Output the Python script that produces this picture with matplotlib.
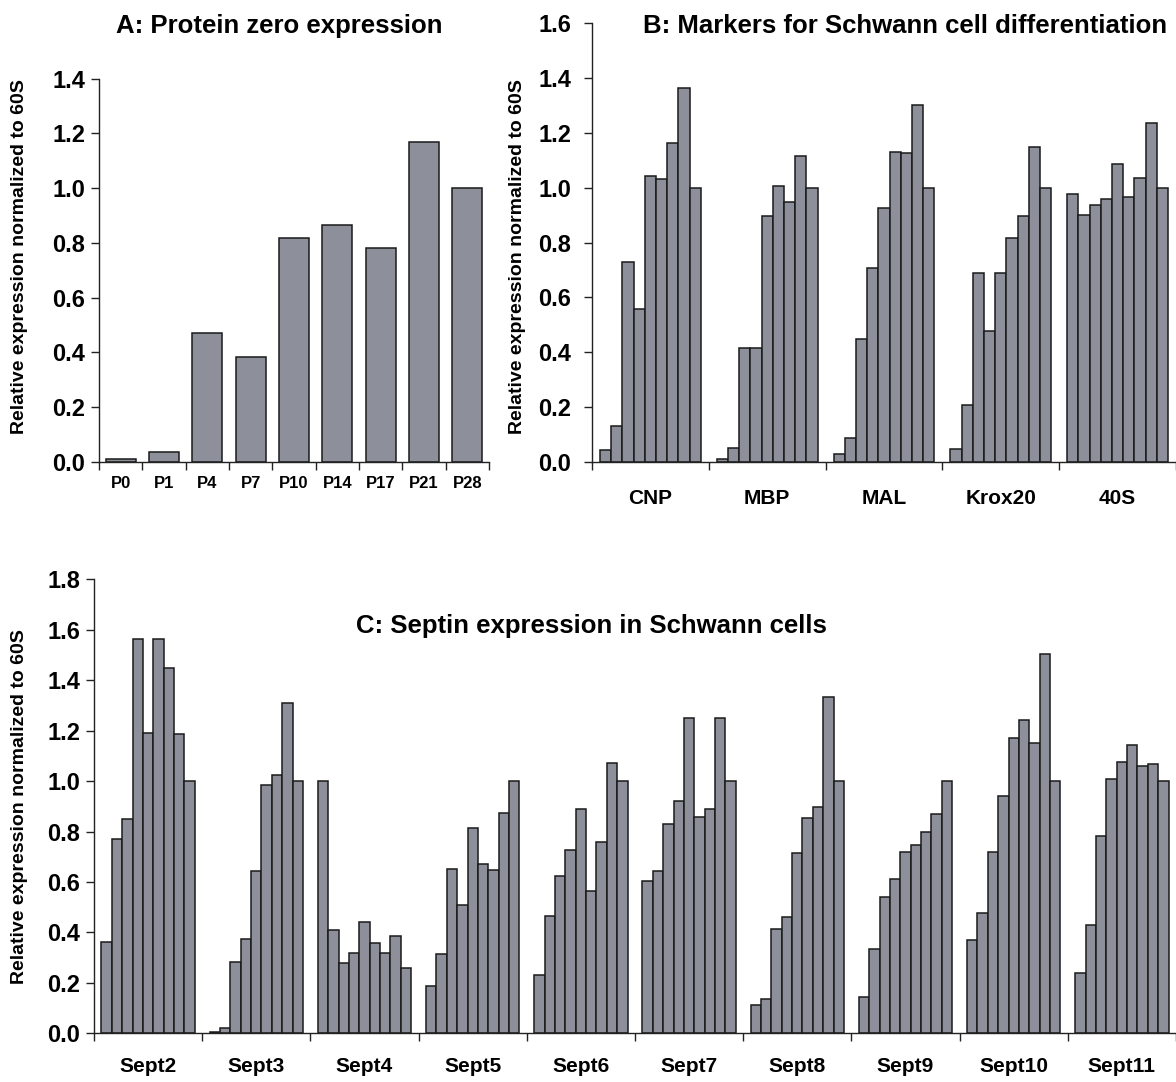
import numpy as np
import matplotlib
matplotlib.use("Agg")
import matplotlib.pyplot as plt

plt.rcParams['font.family'] = ['Liberation Sans', 'DejaVu Sans']
plt.rcParams['font.weight'] = 'bold'

# --- data ---
days = ['P0', 'P1', 'P4', 'P7', 'P10', 'P14', 'P17', 'P21', 'P28']
p0_expr = [0.011, 0.037, 0.469, 0.383, 0.819, 0.864, 0.782, 1.170, 1.0]

markers = ['CNP', 'MBP', 'MAL', 'Krox20', '40S']
cnp = [0.043, 0.131, 0.730, 0.556, 1.044, 1.030, 1.164, 1.365, 1.0]
mbp = [0.011, 0.051, 0.416, 0.416, 0.897, 1.006, 0.946, 1.116, 1.0]
mal = [0.029, 0.086, 0.446, 0.708, 0.926, 1.130, 1.125, 1.300, 1.0]
krox20 = [0.045, 0.206, 0.690, 0.477, 0.690, 0.818, 0.897, 1.150, 1.0]
s40 = [0.976, 0.901, 0.937, 0.959, 1.086, 0.965, 1.035, 1.235, 1.0]

septins = ['Sept2', 'Sept3', 'Sept4', 'Sept5', 'Sept6',
           'Sept7', 'Sept8', 'Sept9', 'Sept10', 'Sept11']
sept2 = [0.361, 0.772, 0.851, 1.562, 1.189, 1.562, 1.448, 1.185, 1.0]
sept3 = [0.007, 0.020, 0.283, 0.373, 0.645, 0.983, 1.024, 1.308, 1.0]
sept4 = [1.0, 0.411, 0.278, 0.318, 0.443, 0.359, 0.317, 0.386, 0.258]
sept5 = [0.186, 0.315, 0.652, 0.510, 0.813, 0.670, 0.648, 0.875, 1.0]
sept6 = [0.233, 0.466, 0.624, 0.727, 0.891, 0.566, 0.759, 1.072, 1.0]
sept7 = [0.603, 0.644, 0.830, 0.922, 1.251, 0.859, 0.891, 1.251, 1.0]
sept8 = [0.112, 0.136, 0.412, 0.463, 0.715, 0.855, 0.896, 1.333, 1.0]
sept9 = [0.144, 0.336, 0.540, 0.612, 0.719, 0.747, 0.797, 0.870, 1.0]
sept10 = [0.371, 0.478, 0.719, 0.942, 1.170, 1.241, 1.152, 1.504, 1.0]
sept11 = [0.239, 0.431, 0.782, 1.010, 1.076, 1.144, 1.058, 1.066, 1.0]

BAR = '#8d8f9a'
W, H = 1176, 1082


def px_axes(fig, x0, x1, ytop, ybot):
    # axes placed from pixel coordinates of the reference
    return fig.add_axes([x0 / W, 1 - ybot / H, (x1 - x0) / W, (ybot - ytop) / H])


def style(ax, ymax, ypad, xpad, xsize):
    for s in ['top', 'right']:
        ax.spines[s].set_visible(False)
    for s in ['left', 'bottom']:
        ax.spines[s].set_linewidth(1.0)
        ax.spines[s].set_color('#222222')
    ax.set_ylim(0, ymax)
    ax.set_yticks(np.arange(0, ymax + 0.01, 0.2))
    ax.set_yticklabels([f'{v:.1f}' for v in np.arange(0, ymax + 0.01, 0.2)])
    ax.tick_params(axis='y', direction='out', length=6, width=1.0, pad=ypad,
                   labelsize=17, color='#222222')
    ax.tick_params(axis='x', which='major', direction='out', length=6, width=1.0,
                   labelbottom=False, color='#222222')
    ax.tick_params(axis='x', which='minor', length=0, pad=xpad, labelsize=xsize)
    for lab in ax.get_yticklabels():
        lab.set_fontweight('bold')


def grouped(ax, groups, series):
    n = len(series[0])
    bw = 0.096
    for g, vals in enumerate(series):
        xs = g + 0.5 + (np.arange(n) - (n - 1) / 2) * bw
        ax.bar(xs, vals, width=bw, color=BAR, edgecolor='#1a1a1a', linewidth=1.1)
    ax.set_xlim(0, len(groups))
    ax.set_xticks(np.arange(len(groups) + 1))
    ax.set_xticks(np.arange(len(groups)) + 0.5, minor=True)
    ax.set_xticklabels(groups, minor=True, fontweight='bold')


fig = plt.figure(figsize=(W / 100, H / 100), dpi=100)

# A: protein zero
axA = px_axes(fig, 99, 489, 78.7, 461.7)
xa = np.arange(len(days)) + 0.5
axA.bar(xa, p0_expr, width=0.69, color=BAR, edgecolor='#1a1a1a', linewidth=1.1)
axA.set_xlim(0, len(days))
axA.set_xticks(np.arange(len(days) + 1))
axA.set_xticks(xa, minor=True)
axA.set_xticklabels(days, minor=True, fontweight='bold')
style(axA, 1.4, 4, 10, 12)
fig.text(279 / W, 1 - 33 / H, 'A: Protein zero expression', ha='center',
         va='baseline', fontsize=18.5, fontweight='bold')
fig.text(20 / W, 1 - 257 / H, 'Relative expression normalized to 60S',
         rotation=90, ha='center', va='center', fontsize=14, fontweight='bold')

# B: differentiation markers
axB = px_axes(fig, 592, 1176, 23.3, 461.7)
grouped(axB, markers, [cnp, mbp, mal, krox20, s40])
style(axB, 1.6, 9, 20, 15)
fig.text(905 / W, 1 - 33 / H, 'B: Markers for Schwann cell differentiation',
         ha='center', va='baseline', fontsize=18.5, fontweight='bold')
fig.text(517 / W, 1 - 257 / H, 'Relative expression normalized to 60S',
         rotation=90, ha='center', va='center', fontsize=14, fontweight='bold')

# C: septins
axC = px_axes(fig, 94, 1176, 579.3, 1033.3)
grouped(axC, septins, [sept2, sept3, sept4, sept5, sept6,
                       sept7, sept8, sept9, sept10, sept11])
style(axC, 1.8, 4, 17, 15)
fig.text(591 / W, 1 - 633 / H, 'C: Septin expression in Schwann cells',
         ha='center', va='baseline', fontsize=18.5, fontweight='bold')
fig.text(20 / W, 1 - 807 / H, 'Relative expression normalized to 60S',
         rotation=90, ha='center', va='center', fontsize=14, fontweight='bold')

fig.savefig('out.png', dpi=100)
